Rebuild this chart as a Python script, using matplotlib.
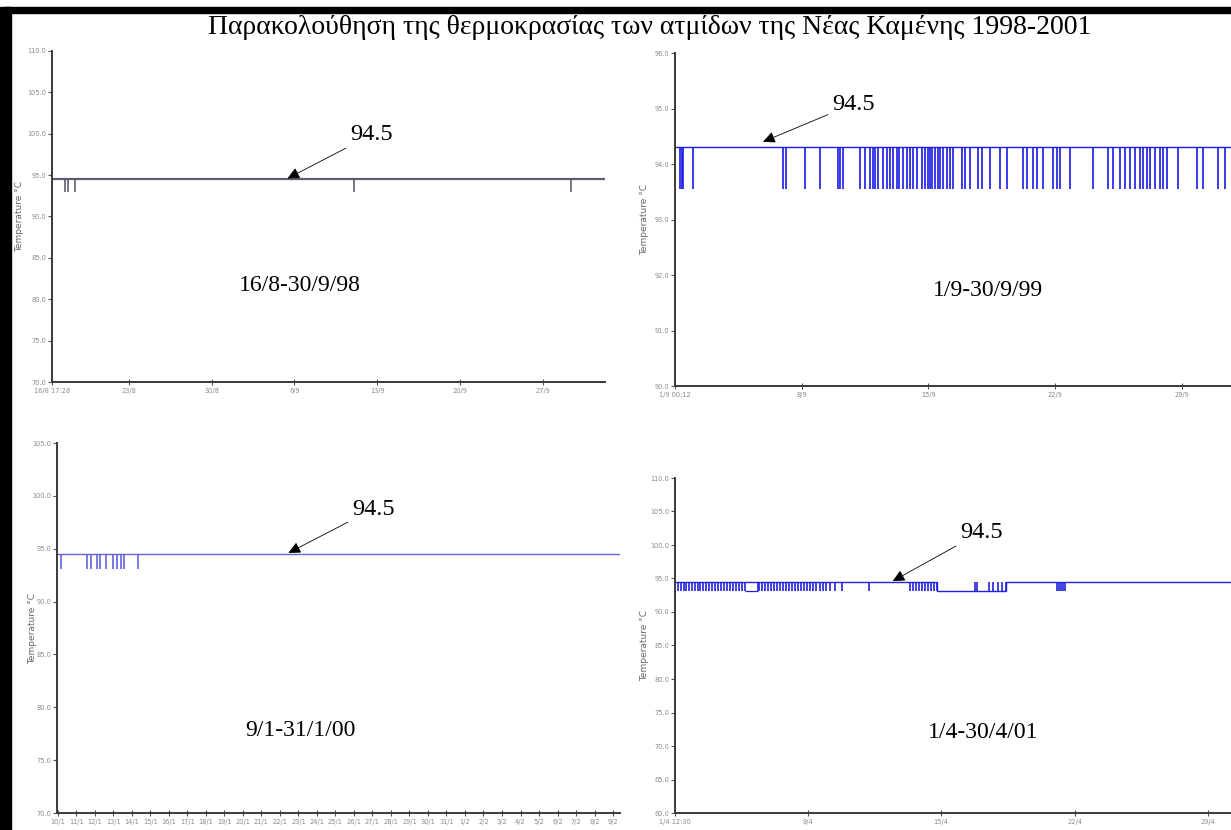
import matplotlib
matplotlib.use("Agg")
import matplotlib.pyplot as plt
import matplotlib.dates as mdates
from matplotlib.patches import Rectangle
import numpy as np
import pandas as pd

W, H = 1231, 830

title = "Παρακολούθηση της θερμοκρασίας των ατμίδων της Νέας Καμένης 1998-2001"

# --- 16/8-30/9/98 ---
p1_start, p1_end = "1998-08-16 12:00", "1998-10-02 06:00"
p1_base, p1_low = 94.5, 93.0
p1_dips = [1.10, 1.36, 1.95, 25.5, 43.9]           # days after start
p1_yticks = [70, 75, 80, 85, 90, 95, 100, 105, 110]
p1_xticks = ["1998-08-16 12:00", "1998-08-23", "1998-08-30", "1998-09-06",
             "1998-09-13", "1998-09-20", "1998-09-27"]
p1_xlabels = ["16/8 17:28", "23/8", "30/8", "6/9", "13/9", "20/9", "27/9"]

# --- 1/9-30/9/99 ---
p2_start, p2_end = "1999-09-01 00:00", "1999-10-02 05:00"
p2_base, p2_low = 94.3, 93.55
p2_dips = [0.28, 0.39, 0.44, 0.99, 5.97, 6.13, 7.18, 8.01, 9.01, 9.12, 9.28,
           10.22, 10.50, 10.77, 10.94, 11.05, 11.22, 11.49, 11.71, 11.88,
           12.04, 12.27, 12.38, 12.60, 12.82, 12.98, 13.15, 13.37, 13.65,
           13.81, 13.98, 14.09, 14.20, 14.36, 14.53, 14.64, 14.81, 15.03,
           15.19, 15.36, 15.86, 16.02, 16.30, 16.74, 16.96, 17.40, 17.96,
           18.34, 19.23, 19.45, 19.78, 20.00, 20.33, 20.88, 21.10, 21.27,
           21.82, 23.09, 23.92, 24.20, 24.59, 24.86, 25.14, 25.41, 25.69,
           25.86, 26.08, 26.24, 26.52, 26.80, 26.96, 27.18, 27.79, 28.84,
           29.17, 30.00, 30.39]
p2_yticks = [90, 91, 92, 93, 94, 95, 96]
p2_xticks = ["1999-09-01 00:00", "1999-09-08", "1999-09-15", "1999-09-22", "1999-09-29"]
p2_xlabels = ["1/9 00:12", "8/9", "15/9", "22/9", "29/9"]

# --- 9/1-31/1/00 ---
p3_start, p3_end = "2000-01-09 23:00", "2000-02-09 09:00"
p3_base, p3_low = 94.5, 93.1
p3_dips = [0.22, 1.62, 1.84, 2.16, 2.32, 2.65, 3.03, 3.24, 3.46, 3.62, 4.38]
p3_yticks = [70, 75, 80, 85, 90, 95, 100, 105]

# --- 1/4-30/4/01 ---
p4_start, p4_end = "2001-04-01 01:00", "2001-04-30 16:00"
p4_base, p4_low = 94.5, 93.2
p4_dips = [0.16, 0.31, 0.47, 0.58, 0.73, 0.89, 1.05, 1.20, 1.31, 1.47, 1.62,
           1.78, 1.94, 2.09, 2.25, 2.41, 2.57, 2.72, 2.88, 3.04, 3.19, 3.35,
           3.51, 3.66, 4.35, 4.40, 4.55, 4.71, 4.87, 5.03, 5.18, 5.34, 5.50,
           5.65, 5.81, 5.97, 6.13, 6.28, 6.44, 6.60, 6.75, 6.91, 7.07, 7.23,
           7.38, 7.59, 7.75, 7.91, 8.12, 8.38, 8.74, 10.16, 12.30, 12.46,
           12.62, 12.77, 12.93, 13.09, 13.25, 13.40, 13.56, 13.72, 15.71,
           15.86, 16.49, 16.70, 16.91, 17.17, 17.33, 20.05, 20.16, 20.26,
           20.37, 20.47]
p4_low_spans = [(3.66, 4.35)]          # low level drawn alongside the base line
p4_drop_spans = [(13.72, 17.33)]       # base line drops to the low level
p4_yticks = [60, 65, 70, 75, 80, 85, 90, 95, 100, 105, 110]
p4_xticks = ["2001-04-01 01:00", "2001-04-08", "2001-04-15", "2001-04-22", "2001-04-29"]
p4_xlabels = ["1/4 12:30", "8/4", "15/4", "22/4", "29/4"]


def days(start, d):
    return mdates.date2num(pd.Timestamp(start) + pd.to_timedelta(np.asarray(d, float), unit="D"))


def dnum(strings):
    return mdates.date2num(pd.to_datetime(strings, format="ISO8601"))


def px_axes(fig, l, t, r, b):
    return fig.add_axes([l / W, 1 - b / H, (r - l) / W, (b - t) / H])


def style(ax, yticks, ylab_x):
    for s in ("top", "right"):
        ax.spines[s].set_visible(False)
    for s in ("left", "bottom"):
        ax.spines[s].set_color("#3a3a3a")
        ax.spines[s].set_linewidth(1.4)
    ax.set_ylim(min(yticks), max(yticks))
    ax.set_yticks(yticks)
    ax.set_yticklabels(["%.1f" % v for v in yticks])
    ax.tick_params(axis="y", direction="out", length=3, width=0.8, colors="#555",
                   labelsize=4.8, labelcolor="#8a8a8a", pad=1)
    ax.tick_params(axis="x", direction="inout", length=5, width=0.8, colors="#555",
                   labelsize=4.8, labelcolor="#8a8a8a", pad=2)
    ax.set_ylabel("Temperature °C", fontsize=6.5, color="#666")
    ax.yaxis.set_label_coords(ylab_x, 0.5)
    ax.patch.set_alpha(0)


def panel(fig, box, start, end, base, low, dips, yticks, color, lw, ylab_x,
          drop_spans=(), low_spans=()):
    ax = px_axes(fig, *box)
    x0, x1 = days(start, [0])[0], dnum([end])[0]
    # base line, with any drops to the low level
    xs, ys = [x0], [base]
    for a, b in drop_spans:
        da, db = days(start, [a, b])
        xs += [da, da, db, db]
        ys += [base, low, low, base]
    xs.append(x1)
    ys.append(base)
    ax.plot(xs, ys, color=color, lw=lw, solid_joinstyle="miter")
    for a, b in low_spans:
        da, db = days(start, [a, b])
        ax.hlines(low, da, db, color=color, lw=0.9)
    ax.vlines(days(start, dips), low, base, color=color, lw=1.2)
    ax.set_xlim(x0, x1)
    style(ax, yticks, ylab_x)
    return ax


def arrow_note(ax, start, day, val, tx, ty):
    ax.annotate("94.5", xy=(days(start, [day])[0], val + 0.1), xycoords="data",
                xytext=(tx / W, 1 - ty / H), textcoords="figure fraction",
                fontsize=17.5, family="Liberation Serif", va="center", ha="left",
                arrowprops=dict(arrowstyle="-|>,head_length=0.42,head_width=0.2",
                                color="black", lw=0.6, shrinkA=1, shrinkB=0))


fig = plt.figure(figsize=(W / 100, H / 100), dpi=100)
fig.patch.set_facecolor("white")

# scanned page frame
fig.patches.append(Rectangle((5 / W, 1 - 13 / H), 1, 6 / H, transform=fig.transFigure,
                             color="black", zorder=10))
fig.patches.append(Rectangle((0, 0), 11 / W, 1 - 7 / H, transform=fig.transFigure,
                             color="black", zorder=10))

fig.text(650 / W, 1 - 27 / H, title, ha="center", va="center", fontsize=20,
         family="Liberation Serif")

ax1 = panel(fig, (52, 51, 605, 382), p1_start, p1_end, p1_base, p1_low, p1_dips,
            p1_yticks, "#5e5e70", 1.6, -0.05)
ax1.set_xticks(dnum(p1_xticks))
ax1.set_xticklabels(p1_xlabels)
arrow_note(ax1, p1_start, 19.9, p1_base, 350, 135)
fig.text(300 / W, 1 - 285 / H, "16/8-30/9/98", ha="center", va="center",
         fontsize=17, family="Liberation Serif")

ax2 = panel(fig, (675, 53, 1240, 386), p2_start, p2_end, p2_base, p2_low, p2_dips,
            p2_yticks, "#1a1ae6", 1.0, -0.046)
ax2.set_xticks(dnum(p2_xticks))
ax2.set_xticklabels(p2_xlabels)
arrow_note(ax2, p2_start, 4.86, p2_base, 832, 104)
fig.text(988 / W, 1 - 290 / H, "1/9-30/9/99", ha="center", va="center",
         fontsize=17, family="Liberation Serif")

ax3 = panel(fig, (57, 443, 620, 813), p3_start, p3_end, p3_base, p3_low, p3_dips,
            p3_yticks, "#6262dc", 1.0, -0.036)
ax3.xaxis.set_major_locator(mdates.DayLocator())
ax3.xaxis.set_major_formatter(plt.FuncFormatter(
    lambda v, pos: "%d/%d" % (mdates.num2date(v).day, mdates.num2date(v).month)))
arrow_note(ax3, p3_start, 12.5, p3_base, 352, 509)
fig.text(300 / W, 1 - 730 / H, "9/1-31/1/00", ha="center", va="center",
         fontsize=17, family="Liberation Serif")

ax4 = panel(fig, (675, 478, 1240, 813), p4_start, p4_end, p4_base, p4_low, p4_dips,
            p4_yticks, "#2222dd", 1.0, -0.046,
            drop_spans=p4_drop_spans, low_spans=p4_low_spans)
ax4.set_xticks(dnum(p4_xticks))
ax4.set_xticklabels(p4_xlabels)
arrow_note(ax4, p4_start, 11.41, p4_base, 960, 532)
fig.text(983 / W, 1 - 732 / H, "1/4-30/4/01", ha="center", va="center",
         fontsize=17, family="Liberation Serif")

fig.savefig("out.png", dpi=100)
